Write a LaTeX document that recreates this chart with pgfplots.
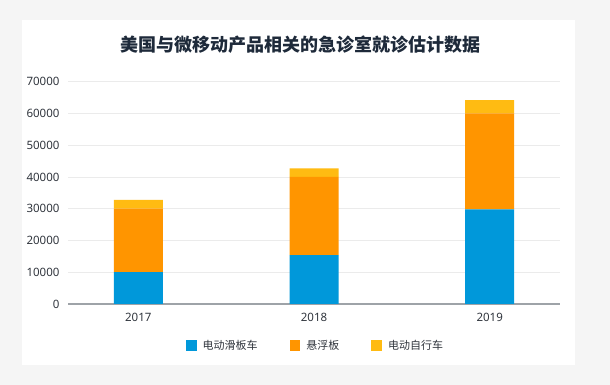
\documentclass[border=0pt]{standalone}
\usepackage{pgfplots}
\pgfplotsset{compat=1.18}
\usepackage{fontspec}
\setmainfont{Noto Sans}
\newfontfamily\cjk{Noto Sans CJK SC}
\definecolor{bgc}{HTML}{F5F5F5}
\definecolor{cblue}{HTML}{0098DA}
\definecolor{corange}{HTML}{FF9500}
\definecolor{cyellow}{HTML}{FFBB12}
\definecolor{gridc}{HTML}{EBEBEB}
\definecolor{axc}{HTML}{9EA3A8}
\definecolor{titlec}{HTML}{1E2A3A}
\definecolor{textc}{HTML}{30353D}
\begin{document}
\begin{tikzpicture}[x=1pt,y=1pt]
\fill[bgc] (0,0) rectangle (610,385);
\fill[white] (22,20) rectangle (575,365);
\node[font=\cjk\bfseries\fontsize{18}{20}\selectfont, text=titlec] at (300,340) {美国与微移动产品相关的急诊室就诊估计数据};
\begin{axis}[
  at={(68pt,81pt)}, anchor=south west,
  scale only axis, width=492pt, height=222.3pt,
  ymin=0, ymax=70000, xmin=-0.4, xmax=2.4,
  ybar stacked, bar width=49pt,
  xtick={0,1,2}, xticklabels={2017,2018,2019},
  ytick={0,10000,20000,30000,40000,50000,60000,70000},
  scaled y ticks=false,
  /pgf/number format/fixed,
  /pgf/number format/1000 sep={},
  /pgf/number format/assume math mode=true,
  tick label style={font=\fontsize{11.5}{13}\selectfont, text=textc},
  yticklabel style={xshift=-5pt},
  xticklabel style={yshift=-6pt},
  major tick length=0pt,
  ymajorgrids, grid style={gridc, line width=0.9pt},
  separate axis lines,
  axis x line*=bottom, axis y line*=left,
  x axis line style={axc, line width=1.4pt, -},
  y axis line style={draw=none},
  legend style={at={(0.2398,-0.1876)}, anchor=west, draw=none, fill=none,
    inner sep=0pt, outer sep=0pt,
    legend columns=3, font=\cjk\fontsize{11}{13}\selectfont, text=textc,
    /tikz/every even column/.append style={column sep=32pt},
    /tikz/every odd column/.append style={column sep=6pt},
    nodes={inner sep=0pt}},
  legend image code/.code={\fill[#1] (0pt,-5.3pt) rectangle (10.7pt,5.3pt);},
]
\addplot[fill=cblue, draw=none] coordinates {(0,10000) (1,15400) (2,29800)};
\addlegendentry{电动滑板车}
\addplot[fill=corange, draw=none] coordinates {(0,20000) (1,24600) (2,30200)};
\addlegendentry{悬浮板}
\addplot[fill=cyellow, draw=none] coordinates {(0,2750) (1,2700) (2,4200)};
\addlegendentry{电动自行车}
\end{axis}
\end{tikzpicture}
\end{document}
